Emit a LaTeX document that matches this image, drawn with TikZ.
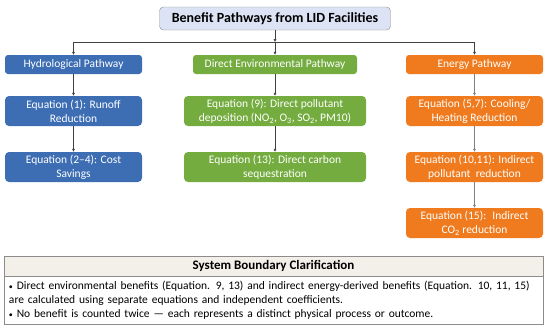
\documentclass[tikz,border=0pt]{standalone}
\usepackage{fontspec}
\setmainfont{Carlito}
\usetikzlibrary{arrows.meta}
\definecolor{hydroblue}{HTML}{3D6EB4}
\definecolor{envgreen}{HTML}{74AC3F}
\definecolor{energyorange}{HTML}{EF7B1E}
\definecolor{titlefill}{HTML}{DCE3F4}
\definecolor{framegray}{HTML}{8C8C8C}
\definecolor{notebeige}{HTML}{F3F0EA}
\newcommand{\smallbullet}{{\fontsize{8}{14}\selectfont•}}

\begin{document}
\begin{tikzpicture}[x=1pt, y=-1pt, >={Latex[length=3pt,width=3pt]}, every node/.style={font=\fontsize{11.5}{14}\selectfont}]
    \tikzstyle{pathbox}=[rounded corners=3pt, minimum height=19pt, inner sep=1pt, text=white, align=center]
    \tikzstyle{eqbox}=[rounded corners=4pt, minimum height=30pt, inner sep=1pt, text=white, align=center]
    \tikzstyle{link}=[->, draw=black!75]

    \useasboundingbox (0,0) rectangle (550,330);

    \node[draw=framegray, fill=titlefill, rounded corners=4pt, minimum width=231pt, minimum height=23pt, inner sep=1pt, font=\fontsize{14}{16}\selectfont\bfseries] (title) at (275,18.5) {Benefit Pathways from LID Facilities};
    \coordinate (split) at (275,42);

    \node[pathbox, fill=hydroblue, minimum width=137pt] (hydro) at (73.5,64.5) {Hydrological Pathway};
    \node[pathbox, fill=envgreen, minimum width=164pt] (direnv) at (275,64.5) {Direct Environmental Pathway};
    \node[pathbox, fill=energyorange, minimum width=137pt] (energy) at (474.5,64.5) {Energy Pathway};
    \draw[link] (title) -- (split);
    \draw[link] (split) -- (direnv);
    \draw[link] (split) -| (hydro);
    \draw[link] (split) -| (energy);

    \node[eqbox, fill=hydroblue, minimum width=137pt] (eqRunoff) at (73.5,111) {Equation (1): Runoff\\Reduction};
    \node[eqbox, fill=hydroblue, minimum width=137pt] (eqCost) at (73.5,167) {Equation (2--4): Cost\\Savings};
    \draw[link] (hydro) -- (eqRunoff);
    \draw[link] (eqRunoff) -- (eqCost);

    \node[eqbox, fill=envgreen, minimum width=182pt] (eqDepo) at (275,111) {Equation (9): Direct pollutant\\deposition (NO\textsubscript{2}, O\textsubscript{3}, SO\textsubscript{2}, PM10)};
    \node[eqbox, fill=envgreen, minimum width=182pt] (eqCarbon) at (275,167) {Equation (13): Direct carbon\\sequestration};
    \draw[link] (direnv) -- (eqDepo);
    \draw[link] (eqDepo) -- (eqCarbon);

    \node[eqbox, fill=energyorange, minimum width=137pt] (eqCool) at (474.5,111) {Equation (5,7): Cooling/\\Heating Reduction};
    \node[eqbox, fill=energyorange, minimum width=137pt] (eqIndPol) at (474.5,167) {Equation (10,11): Indirect\\pollutant \ reduction};
    \node[eqbox, fill=energyorange, minimum width=137pt] (eqIndCO) at (474.5,223) {Equation (15): \ Indirect\\CO\textsubscript{2} reduction};
    \draw[link, draw=black!50] (energy) -- (eqCool);
    \draw[link, draw=black!50] (eqCool) -- (eqIndPol);
    \draw[link, draw=black!50] (eqIndPol) -- (eqIndCO);

    \node[draw=framegray, fill=notebeige, minimum width=539pt, minimum height=20pt, inner sep=0pt, font=\fontsize{13}{15}\selectfont\bfseries] (bndHead) at (273.5,266) {System Boundary Clarification};
    \node[draw=framegray, anchor=north, minimum width=539pt, minimum height=46pt, text width=529pt, inner sep=5pt, align=left] (bndNote) at (bndHead.south) {\smallbullet{} Direct environmental benefits (Equation. 9, 13) and indirect energy-derived benefits (Equation. 10, 11, 15)\\are calculated using separate equations and independent coefficients.\\\smallbullet{} No benefit is counted twice — each represents a distinct physical process or outcome.};
\end{tikzpicture}
\end{document}
